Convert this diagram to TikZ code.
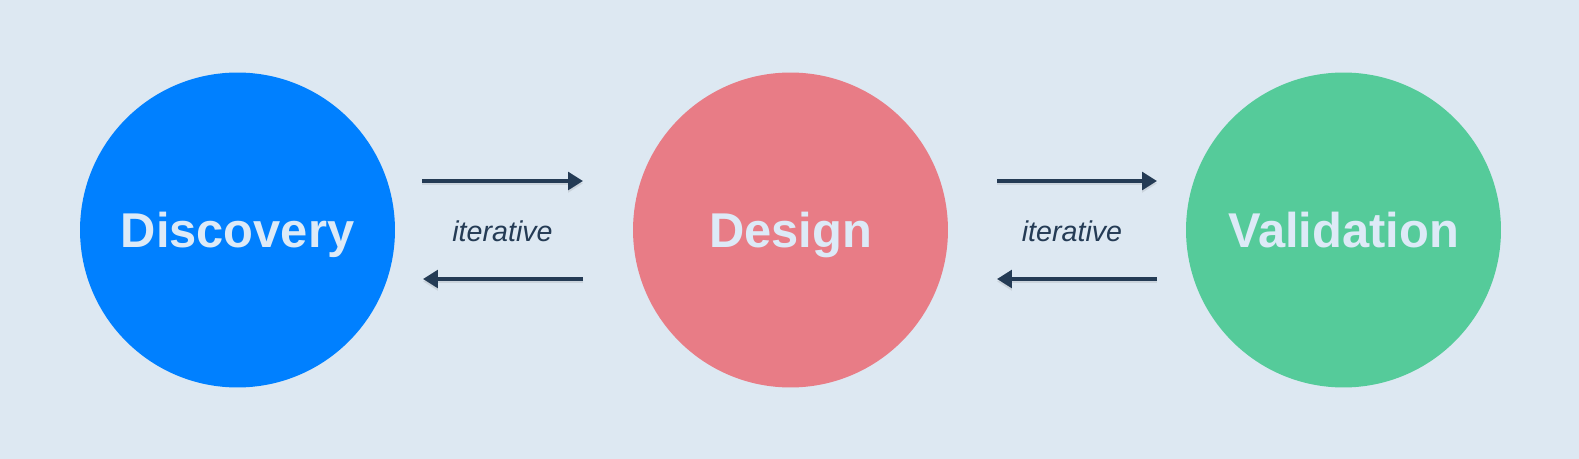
\documentclass[tikz,border=0pt]{standalone}
\usepackage{fontspec}
\setmainfont{Liberation Sans}
\usetikzlibrary{arrows.meta}

\definecolor{bgcol}{HTML}{DDE8F2}
\definecolor{discblue}{HTML}{0080FF}
\definecolor{desred}{HTML}{E87C86}
\definecolor{valgreen}{HTML}{55CB9A}
\definecolor{labelcol}{HTML}{DDEAF7}
\definecolor{arrowcol}{HTML}{243B55}

\tikzset{
  phase/.style={circle, minimum size=6.3cm, inner sep=0pt, text=labelcol,
    text height=19.9pt, text depth=0pt,
    font=\fontsize{27.8}{30}\selectfont\bfseries},
  flow/.style={draw=arrowcol, line width=2.1pt,
    -{Triangle[length=8.5pt,width=10pt]},
    preaction={draw=black!60, opacity=0.15, line width=2.1pt,
      transform canvas={yshift=-1.4pt}}},
  loopnote/.style={text=arrowcol, text height=8.5pt, text depth=0pt,
    font=\fontsize{16.3}{18}\selectfont\itshape}
}

\begin{document}
\begin{tikzpicture}[x=0.02cm, y=-0.02cm]

      \fill[bgcol] (0,0) rectangle (1579,459);
      \useasboundingbox (0,0) rectangle (1579,459);

      \node [phase, fill=discblue] (discovery) at (237.5,230) {Discovery};
      \node [phase, fill=desred] (design) at (790.5,230) {Design};
      \node [phase, fill=valgreen] (validation) at (1343.5,230) {Validation};

      % first pair
      \coordinate (dfwds) at (422,181);
      \coordinate (dfwde) at (583,181);
      \coordinate (dback) at (583,279);
      \coordinate (dbacke) at (423,279);
      \draw [flow] (dfwds) -- (dfwde);
      \draw [flow] (dback) -- (dbacke);
      \node [loopnote] (note1) at (502.5,234) {iterative};

      % second pair
      \coordinate (vfwds) at (997,181);
      \coordinate (vfwde) at (1157,181);
      \coordinate (vback) at (1157,279);
      \coordinate (vbacke) at (997,279);
      \draw [flow] (vfwds) -- (vfwde);
      \draw [flow] (vback) -- (vbacke);
      \node [loopnote] (note2) at (1072,234) {iterative};

\end{tikzpicture}
\end{document}
